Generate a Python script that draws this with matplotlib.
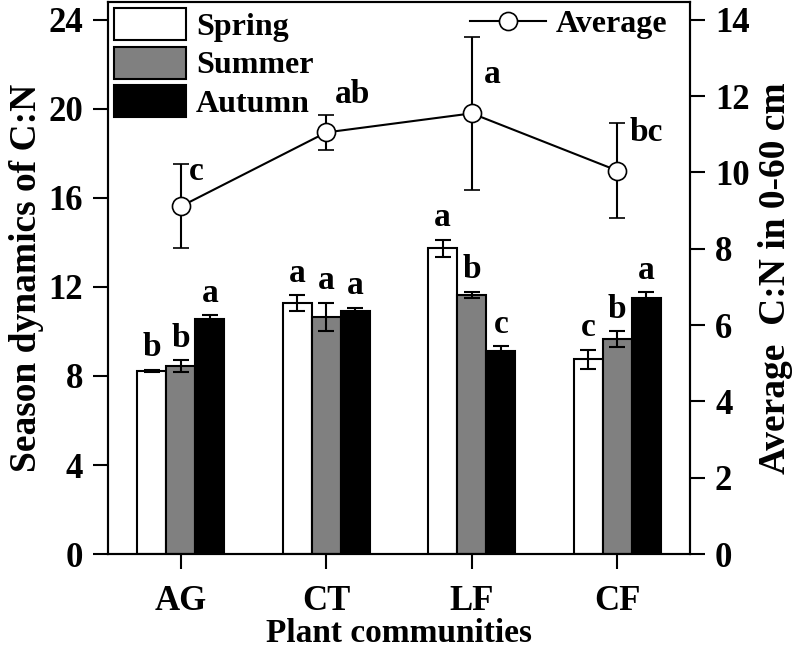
import matplotlib
matplotlib.use("Agg")
from matplotlib import pyplot as plt
from matplotlib.patches import Patch
from matplotlib.lines import Line2D
import numpy as np

communities = ["AG", "CT", "LF", "CF"]
seasons = ["Spring", "Summer", "Autumn"]
season_colors = ["white", "#808080", "black"]

spring = [8.22, 11.27, 13.74, 8.76]
spring_err = [0.05, 0.36, 0.37, 0.43]
spring_sig = ["b", "a", "a", "c"]

summer = [8.44, 10.67, 11.64, 9.66]
summer_err = [0.26, 0.63, 0.15, 0.35]
summer_sig = ["b", "a", "b", "b"]

autumn = [10.55, 10.93, 9.12, 11.52]
autumn_err = [0.18, 0.13, 0.22, 0.24]
autumn_sig = ["a", "a", "c", "a"]

average = [9.11, 11.05, 11.55, 10.05]
average_err = [1.1, 0.47, 2.0, 1.24]
average_sig = ["c", "ab", "a", "bc"]

plt.rcParams["font.family"] = ["Liberation Serif", "DejaVu Serif"]
plt.rcParams["font.weight"] = "bold"
plt.rcParams["axes.linewidth"] = 1.5

fig = plt.figure(figsize=(8, 6.52), dpi=100)
ax = fig.add_axes([0.135, 0.1503, 0.7275, 0.8467])
ax2 = ax.twinx()

x = np.arange(len(communities))
width = 0.2
series = [(spring, spring_err, spring_sig), (summer, summer_err, summer_sig),
          (autumn, autumn_err, autumn_sig)]
for i, (vals, errs, sigs) in enumerate(series):
    pos = x + (i - 1) * width
    ax.bar(pos, vals, width, color=season_colors[i], edgecolor="black",
           linewidth=1.5, zorder=2)
    ax.errorbar(pos, vals, yerr=errs, fmt="none", ecolor="black",
                elinewidth=1.5, capsize=6, capthick=1.5, zorder=3)
    for p, v, e, s in zip(pos, vals, errs, sigs):
        ax.text(p, v + e + 0.3, s, ha="center", va="bottom",
                fontsize=24, fontweight="bold")

ax2.errorbar(x, average, yerr=average_err, fmt="-o", color="black",
             lw=1.5, elinewidth=1.5, capsize=6, capthick=1.5,
             markersize=13, markerfacecolor="white", markeredgewidth=1.2)

# letters next to the average points (offsets in points)
avg_offsets = [(6, 14), (6, 16), (9, 17), (9, 16)]
for xi, v, e, s, (dx, dy) in zip(x, average, average_err, average_sig, avg_offsets):
    ax2.annotate(s, (xi, v), xytext=(dx, dy), textcoords="offset points",
                 ha="left", va="bottom", fontsize=24, fontweight="bold")

ax.set_xlim(-0.5, 3.5)
ax.set_ylim(0, 24.81)
ax2.set_ylim(0, 14.47)
ax.set_yticks(np.arange(0, 25, 4))
ax2.set_yticks(np.arange(0, 15, 2))
ax.set_xticks(x)
ax.set_xticklabels(communities)

ax.tick_params(axis="both", direction="out", length=11, width=1.5,
               labelsize=25, pad=7)
ax.tick_params(axis="x", pad=11)
ax2.tick_params(axis="y", direction="out", length=11, width=1.5,
                labelsize=25, pad=7)

ax.set_xlabel("Plant communities", fontsize=24, fontweight="bold", labelpad=0)
ax.set_ylabel("Season dynamics of C:N", fontsize=27, fontweight="bold", labelpad=3)
ax2.set_ylabel("Average  C:N in 0-60 cm", fontsize=27, fontweight="bold", labelpad=6)

handles = [Patch(facecolor=c, edgecolor="black", linewidth=1.5) for c in season_colors]
ax.legend(handles, seasons, loc="upper left", frameon=False, fontsize=23,
          handlelength=2.25, handleheight=1.15, labelspacing=0.15,
          handletextpad=0.3, borderpad=0.1, borderaxespad=0.1)

avg_handle = Line2D([], [], color="black", lw=1.5, marker="o", markersize=13,
                    markerfacecolor="white", markeredgewidth=1.2)
ax2.legend([avg_handle], ["Average"], loc="upper right", frameon=False,
           fontsize=23, handlelength=2.4, handletextpad=0.3, borderpad=0.1,
           borderaxespad=0.15, bbox_to_anchor=(0.975, 1.0))

plt.savefig("out.png", dpi=100)
